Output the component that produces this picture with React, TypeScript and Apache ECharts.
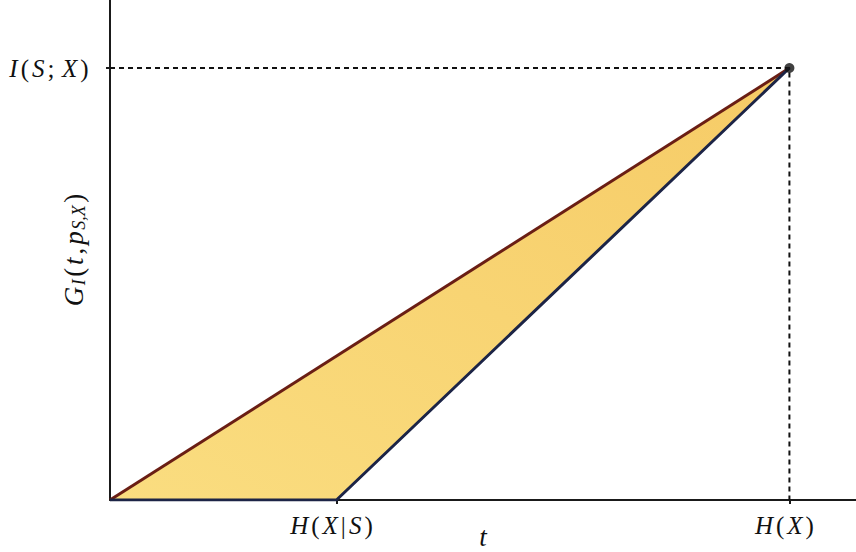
import React, { useEffect, useRef } from "react";
import * as echarts from "echarts";

// Data (abstract units: H(X|S)=1, H(X)=3, I(S;X)=H(X)-H(X|S)=2)
const xTickValues = [1, 3];
const xTickLabels = ["{i|H}{n|(}{i|X}{n||}{i|S}{n|)}", "{i|H}{n|(}{i|X}{n|)}"];
const yTickValues = [2];
const yTickLabels = ["{i|I}{n|(}{i|S}{s|;}{i|X}{n|)}"];
const upperLine = [
  [0, 0],
  [3, 2],
];
const lowerLine = [
  [0, 0],
  [1, 0],
  [3, 2],
];
const regionPolygon = [
  [0, 0],
  [1, 0],
  [3, 2],
];
const guideLine = [
  [0, 2],
  [3, 2],
  [3, 0],
];
const endPoint = [[3, 2]];

const SERIF = "'Liberation Serif', 'DejaVu Serif', serif";

const rich = {
  i: { fontFamily: SERIF, fontStyle: "italic", fontSize: 25, color: "#111", padding: [0, 1.5, 0, 1.5] },
  n: { fontFamily: SERIF, fontSize: 25, color: "#111", padding: [0, 1.5, 0, 1.5] },
  s: { fontFamily: SERIF, fontSize: 25, color: "#111", padding: [0, 6, 0, 1.5] },
};

export default function App() {
  const ref = useRef<HTMLDivElement>(null);
  useEffect(() => {
    if (!ref.current) return;
    const chart = echarts.init(ref.current, null, { renderer: "svg" });
    chart.setOption({
      animation: false,
      backgroundColor: "#fff",
      grid: { left: 110, right: 0, top: 0, bottom: 52, outerBoundsMode: "none", containLabel: false },
      xAxis: {
        type: "value",
        min: 0,
        max: 3.294,
        splitLine: { show: false },
        axisLine: { show: true, lineStyle: { color: "#1a1a1a", width: 2 } },
        axisTick: { show: true, customValues: xTickValues, length: 4, lineStyle: { color: "#1a1a1a", width: 2 } },
        axisLabel: {
          show: true,
          customValues: xTickValues,
          margin: 13,
          padding: [0, 10, 0, 0],
          formatter: (v: number) => xTickLabels[xTickValues.indexOf(v)] ?? "",
          rich,
        },
        name: "{i|t}",
        nameLocation: "middle",
        nameGap: 25,
        nameMoveOverlap: false,
        nameTextStyle: {
          rich: { i: { fontFamily: SERIF, fontStyle: "italic", fontSize: 27, lineHeight: 24, color: "#111" } },
        },
      },
      yAxis: {
        type: "value",
        min: 0,
        max: 2.315,
        splitLine: { show: false },
        axisLine: { show: true, lineStyle: { color: "#1a1a1a", width: 2 } },
        axisTick: { show: true, customValues: yTickValues, length: 4, lineStyle: { color: "#1a1a1a", width: 2 } },
        axisLabel: {
          show: true,
          customValues: yTickValues,
          margin: 20,
          formatter: (v: number) => yTickLabels[yTickValues.indexOf(v)] ?? "",
          rich,
        },
        name: "{i|G}{s|I}{n|(}{i|t}{n|,}{i|p}{s|S,X}{n|)}",
        nameLocation: "middle",
        nameGap: 22,
        nameMoveOverlap: false,
        nameTextStyle: {
          rich: {
            i: { ...rich.i, fontSize: 27 },
            n: { ...rich.n, fontSize: 27 },
            s: { fontFamily: SERIF, fontStyle: "italic", fontSize: 18, color: "#111", padding: [11, 1, 0, 0] },
          },
        },
      },
      series: [
        {
          type: "custom",
          z: 1,
          data: [0],
          renderItem: (_params: any, api: any) => ({
            type: "polygon",
            shape: { points: regionPolygon.map((p) => api.coord(p)) },
            style: {
              fill: new echarts.graphic.LinearGradient(0, 1, 1, 0, [
                { offset: 0, color: "#FADD80" },
                { offset: 1, color: "#F6CB66" },
              ]),
            },
          }),
          silent: true,
        },
        {
          type: "line",
          z: 2,
          data: guideLine,
          symbol: "none",
          lineStyle: { color: "#111", width: 2, type: [5, 4] },
          silent: true,
        },
        {
          type: "line",
          z: 3,
          data: upperLine,
          symbol: "none",
          lineStyle: { color: "#6a1e14", width: 3 },
        },
        {
          type: "line",
          z: 3,
          data: lowerLine,
          symbol: "none",
          lineStyle: { color: "#1c2446", width: 3 },
        },
        {
          type: "scatter",
          z: 4,
          data: endPoint,
          symbol: "circle",
          symbolSize: 10,
          itemStyle: { color: "#111" },
        },
      ],
    });
    return () => chart.dispose();
  }, []);
  return (
    <div
      ref={ref}
      style={{ position: "fixed", left: 0, top: 0, width: 856, height: 552, background: "#fff" }}
    />
  );
}
